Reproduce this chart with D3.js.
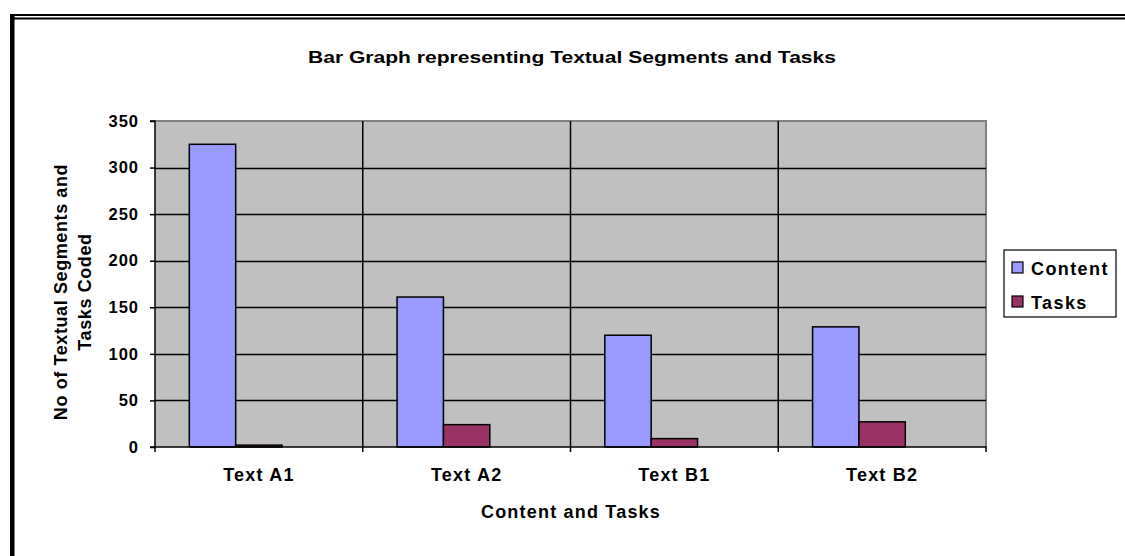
<!DOCTYPE html>
<html>
<head>
<meta charset="utf-8">
<script src="https://cdn.jsdelivr.net/npm/d3@7"></script>
<style>
  html, body { margin: 0; padding: 0; background: #fff; }
  svg { display: block; font-family: Arial, "Liberation Sans", sans-serif; font-weight: bold; }
</style>
</head>
<body>
<svg id="chart" width="1125" height="556"></svg>
<script>
const categories = ["Text A1", "Text A2", "Text B1", "Text B2"];
const seriesNames = ["Content", "Tasks"];
const contentValues = [325, 161, 120, 129];
const tasksValues = [2, 24, 9, 27];
const yTicks = [0, 50, 100, 150, 200, 250, 300, 350];
const seriesColors = ["#9999ff", "#993366"];
const titleText = "Bar Graph representing Textual Segments and Tasks";
const xTitle = "Content and Tasks";
const yTitleLines = ["No of Textual Segments and", "Tasks Coded"];

const seriesValues = [contentValues, tasksValues];
const data = categories.map((c, i) => ({
  category: c,
  values: seriesNames.map((s, j) => ({ series: s, value: seriesValues[j][i], idx: j }))
}));

const svg = d3.select("#chart");
svg.append("rect").attr("width", 1125).attr("height", 556).attr("fill", "#fff");

// outer border (double top line, thick left)
svg.append("line").attr("x1", 10).attr("x2", 1125).attr("y1", 15).attr("y2", 15).attr("stroke", "#000").attr("stroke-width", 2);
svg.append("line").attr("x1", 13).attr("x2", 1125).attr("y1", 18.5).attr("y2", 18.5).attr("stroke", "#000").attr("stroke-width", 2);
svg.append("rect").attr("x", 10).attr("y", 14).attr("width", 4.5).attr("height", 542).attr("fill", "#000");

const plot = { left: 155, right: 986, top: 121, bottom: 447 };

const y = d3.scaleLinear().domain([0, 350]).range([plot.bottom, plot.top]);
const x0 = d3.scaleBand().domain(categories).range([plot.left, plot.right]).paddingInner(0).paddingOuter(0);
// Excel reserves three bar slots per category; only the first two hold series
const x1 = d3.scaleBand().domain([0, 1, 2]).range([0, x0.bandwidth()]).paddingInner(0).paddingOuter(0.74);

// plot background
svg.append("rect")
  .attr("x", plot.left).attr("y", plot.top)
  .attr("width", plot.right - plot.left).attr("height", plot.bottom - plot.top)
  .attr("fill", "#c0c0c0");
// gray top & right border
svg.append("path")
  .attr("d", `M${plot.left},${plot.top} H${plot.right} V${plot.bottom}`)
  .attr("fill", "none").attr("stroke", "#808080").attr("stroke-width", 2);

// horizontal gridlines
svg.append("g").selectAll("line").data(yTicks.filter(t => t > 0 && t < 350)).join("line")
  .attr("x1", plot.left).attr("x2", plot.right)
  .attr("y1", d => Math.round(y(d)) + 0.5).attr("y2", d => Math.round(y(d)) + 0.5)
  .attr("stroke", "#000").attr("stroke-width", 1.5);

// vertical category dividers (gridlines) + ticks below axis
const boundaries = categories.slice(1).map(c => x0(c));
svg.append("g").selectAll("line").data(boundaries).join("line")
  .attr("x1", d => d).attr("x2", d => d)
  .attr("y1", plot.top).attr("y2", plot.bottom + 5)
  .attr("stroke", "#000").attr("stroke-width", 1.5);

// bars
const groups = svg.append("g").selectAll("g").data(data).join("g")
  .attr("transform", d => `translate(${x0(d.category)},0)`);
groups.selectAll("rect").data(d => d.values).join("rect")
  .attr("x", d => x1(d.idx))
  .attr("y", d => y(d.value))
  .attr("width", x1.bandwidth())
  .attr("height", d => y(0) - y(d.value))
  .attr("fill", d => seriesColors[d.idx])
  .attr("stroke", "#000").attr("stroke-width", 1.5);

// y axis
const yAxis = d3.axisLeft(y).tickValues(yTicks).tickSize(5).tickPadding(11).tickFormat(d3.format("d"));
const gy = svg.append("g").attr("transform", `translate(${plot.left},0)`).call(yAxis);
gy.select(".domain").attr("stroke", "#000").attr("stroke-width", 1.5).attr("d", `M-5,${plot.top}H0V${plot.bottom}H-5`);
gy.selectAll(".tick line").attr("stroke", "#000").attr("stroke-width", 1.5);
gy.selectAll(".tick text").attr("fill", "#000").style("font-size", "16.5px").style("font-weight", "bold")
  .style("font-family", "Arial, 'Liberation Sans', sans-serif").attr("letter-spacing", 1);

// x axis
const xAxis = d3.axisBottom(x0).tickSize(0).tickPadding(21);
const gx = svg.append("g").attr("transform", `translate(0,${plot.bottom})`).call(xAxis);
gx.select(".domain").attr("stroke", "#000").attr("stroke-width", 1.5).attr("d", `M${plot.left},5V0H${plot.right}V5`);
gx.selectAll(".tick text").attr("fill", "#000").style("font-size", "18px").style("font-weight", "bold")
  .style("font-family", "Arial, 'Liberation Sans', sans-serif").attr("letter-spacing", 1.2);

// title
svg.append("text").attr("x", 572).attr("y", 63).attr("text-anchor", "middle")
  .style("font-size", "16px").attr("textLength", 528).attr("lengthAdjust", "spacingAndGlyphs").text(titleText);

// x title
svg.append("text").attr("x", 571).attr("y", 518).attr("text-anchor", "middle")
  .style("font-size", "18px").attr("letter-spacing", 1.2).text(xTitle);

// y title
const yt = svg.append("text").attr("transform", "translate(0,292) rotate(-90)")
  .attr("text-anchor", "middle").style("font-size", "18px").attr("letter-spacing", 0.6);
yt.selectAll("tspan").data(yTitleLines).join("tspan")
  .attr("x", 0).attr("y", (d, i) => 67 + i * 24).text(d => d);

// legend
const lg = svg.append("g").attr("transform", "translate(1004,250)");
lg.append("rect").attr("width", 112).attr("height", 67).attr("fill", "#fff").attr("stroke", "#000").attr("stroke-width", 1.2);
const items = lg.selectAll("g.item").data(seriesNames).join("g").attr("class", "item")
  .attr("transform", (d, i) => `translate(8,${12 + i * 34})`);
items.append("rect").attr("width", 11).attr("height", 11)
  .attr("fill", (d, i) => seriesColors[i]).attr("stroke", "#000").attr("stroke-width", 1.2);
items.append("text").attr("x", 19).attr("y", 12.5).style("font-size", "18px").attr("letter-spacing", 1.4).text(d => d);
</script>
</body>
</html>
